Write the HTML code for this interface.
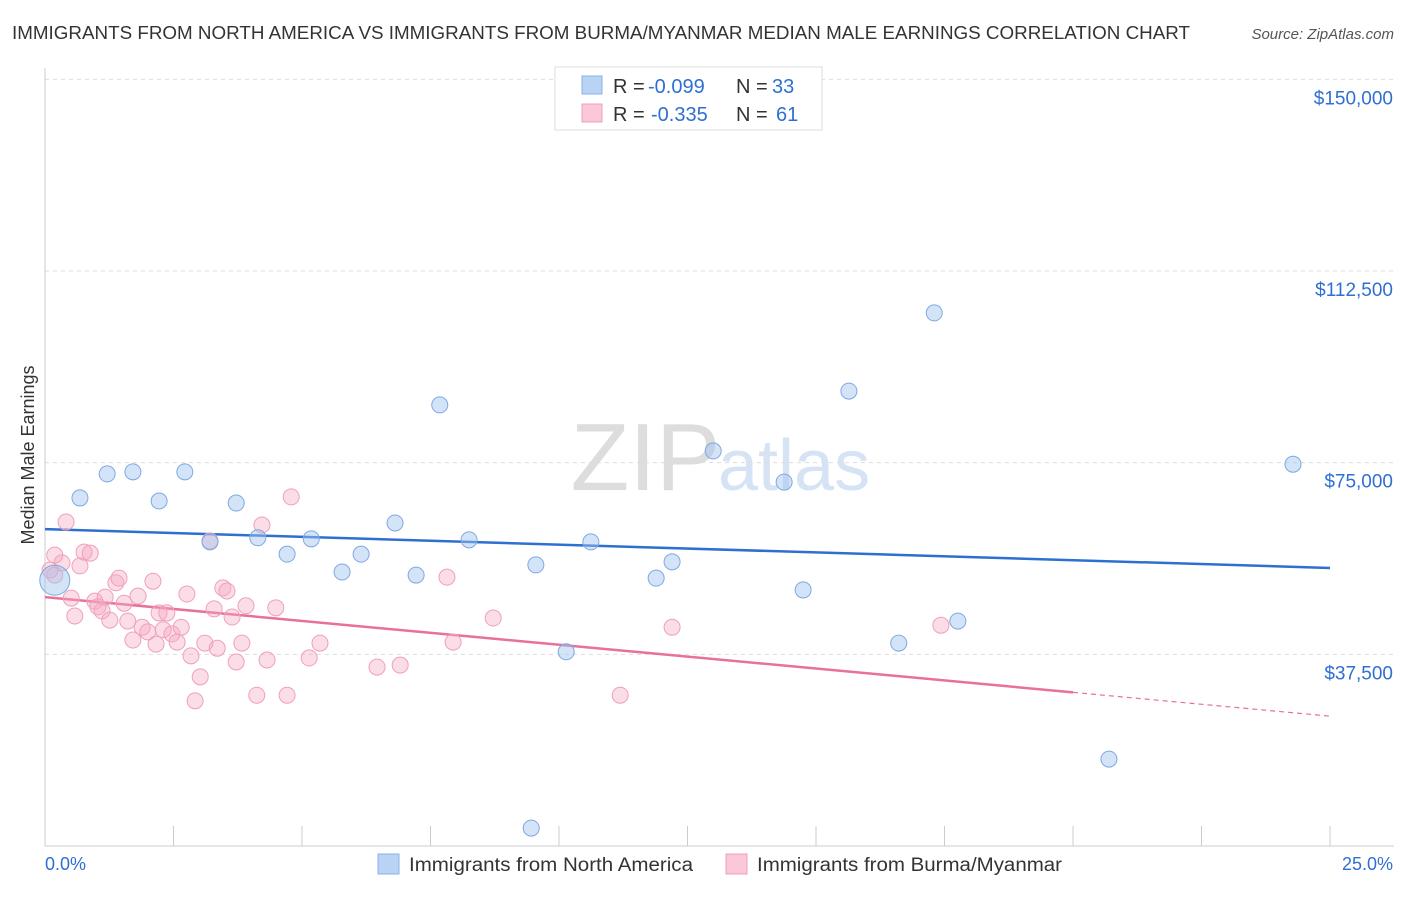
<!DOCTYPE html>
<html><head><meta charset="utf-8"><style>
body{margin:0;background:#fff;font-family:"Liberation Sans",sans-serif;}
svg text{font-family:"Liberation Sans",sans-serif;}
</style></head><body>
<svg id="chart" width="1406" height="892" xmlns="http://www.w3.org/2000/svg">
<text x="12" y="39" font-size="18" fill="#333" textLength="1178" lengthAdjust="spacingAndGlyphs">IMMIGRANTS FROM NORTH AMERICA VS IMMIGRANTS FROM BURMA/MYANMAR MEDIAN MALE EARNINGS CORRELATION CHART</text>
<text x="1394" y="39" font-size="15" fill="#555" text-anchor="end" font-style="italic">Source: ZipAtlas.com</text>
<text x="720" y="490" font-size="96" text-anchor="end" fill="#ddd" font-family="Liberation Serif">ZIP</text>
<text x="718" y="490" font-size="72" fill="#d5e3f5">atlas</text>
<text transform="translate(34,455) rotate(-90)" font-size="18" fill="#333" text-anchor="middle">Median Male Earnings</text>
<g id="grid"></g><g id="trend"></g><g id="points"></g>
<g>
<rect x="555" y="67" width="267" height="63" fill="#fff" stroke="#ddd"/>
<rect x="582" y="76" width="20" height="18" fill="#b9d3f5" stroke="#8ab2e8"/>
<rect x="582" y="104" width="20" height="18" fill="#fac8d6" stroke="#f0a0b8"/>
<text x="613" y="93" font-size="20" fill="#333">R =</text>
<text x="648" y="93" font-size="20" fill="#2f6fd1">-0.099</text>
<text x="736" y="93" font-size="20" fill="#333">N =</text>
<text x="772" y="93" font-size="20" fill="#2f6fd1">33</text>
<text x="613" y="121" font-size="20" fill="#333">R =</text>
<text x="651" y="121" font-size="20" fill="#2f6fd1">-0.335</text>
<text x="736" y="121" font-size="20" fill="#333">N =</text>
<text x="776" y="121" font-size="20" fill="#2f6fd1">61</text>
</g>
<g>
<rect x="378" y="854" width="21" height="20" fill="#b9d3f5" stroke="#8ab2e8"/>
<text x="409" y="871" font-size="19" fill="#333" textLength="284" lengthAdjust="spacingAndGlyphs">Immigrants from North America</text>
<rect x="726" y="854" width="21" height="20" fill="#fac8d6" stroke="#f0a0b8"/>
<text x="757" y="871" font-size="19" fill="#333" textLength="305" lengthAdjust="spacingAndGlyphs">Immigrants from Burma/Myanmar</text>
</g>
<text x="45" y="870" font-size="18" fill="#2f6fd1">0.0%</text>
<text x="1393" y="870" font-size="18" fill="#2f6fd1" text-anchor="end">25.0%</text>
</svg>
<script>
const yTicks=[37500,75000,112500,150000];
const yTickLabels=["$37,500","$75,000","$112,500","$150,000"];
const blueX=[0.19,0.68,1.21,1.71,2.22,2.72,3.21,3.72,4.14,4.71,5.18,5.78,6.15,6.81,7.22,7.68,8.25,9.46,9.55,10.14,10.62,11.89,12.2,13.0,14.38,14.75,15.64,16.61,17.3,17.76,20.7,24.28];
const blueY=[52.0,68.1,72.8,73.2,67.5,73.2,59.5,67.1,60.3,57.1,60.1,53.6,57.1,63.2,53.0,86.3,59.9,3.5,55.0,38.0,59.5,52.4,55.6,77.3,71.2,50.1,89.0,39.7,104.3,44.0,17.0,74.7];
const pinkX=[0.1,0.19,0.33,0.41,0.19,0.51,0.58,0.68,0.76,0.88,0.97,1.03,1.11,1.17,1.26,1.38,1.44,1.54,1.61,1.71,1.81,1.89,2.0,2.1,2.16,2.22,2.3,2.37,2.47,2.57,2.65,2.76,2.84,2.92,3.02,3.11,3.21,3.29,3.35,3.46,3.54,3.64,3.72,3.83,3.91,4.12,4.22,4.32,4.49,4.71,4.79,5.14,5.35,6.46,6.91,7.82,7.94,8.72,11.19,12.2,17.43];
const pinkY=[54.0,53.0,55.4,63.4,56.9,48.5,45.0,54.8,57.5,57.3,47.9,46.8,46.0,48.7,44.2,51.5,52.4,47.5,44.0,40.3,48.9,42.8,41.9,51.8,39.5,45.6,42.3,45.6,41.5,39.9,42.8,49.3,37.2,28.4,33.1,39.7,59.7,46.4,38.7,50.5,49.9,44.8,36.0,39.7,47.0,29.5,62.8,36.4,46.6,29.5,68.3,36.8,39.7,35.0,35.4,52.6,39.9,44.6,29.5,42.8,43.2];
const blueTrend=[62.0,54.4];
const pinkTrend=[48.7,25.4];
const pinkSolidEnd=20;
const NS="http://www.w3.org/2000/svg";
const xs=p=>45+p*51.4;
function yv(k){return 846-k/0.19565;}
function mk(t,a,parent){const e=document.createElementNS(NS,t);for(const k in a)e.setAttribute(k,a[k]);parent.appendChild(e);return e;}
const grid=document.getElementById('grid');
yTicks.forEach((v,i)=>{const y=yv(v/1000);
const l=mk('line',{x1:45,x2:1394,y1:y,y2:y,stroke:'#ddd','stroke-dasharray':'4,4'},grid);


const t=mk('text',{x:1393,y:y+25,'font-size':19,fill:'#2f6fd1','text-anchor':'end'},grid);t.textContent=yTickLabels[i];

});
const ax=mk('line',{x1:45,x2:45,y1:68,y2:846,stroke:'#ccc'},grid);


const bx=mk('line',{x1:45,x2:1394,y1:846,y2:846,stroke:'#ccc'},grid);


for(let i=0;i<=10;i++){const x=xs(i*2.5);const t=mk('line',{x1:x,x2:x,y1:826,y2:846,stroke:'#ccc'},grid);

}
const pts=document.getElementById('points');
pinkX.forEach((x,i)=>{const c=mk('circle',{cx:xs(x),cy:yv(pinkY[i]),r:8,fill:'rgba(246,170,196,0.4)',stroke:'#f0a0b8','stroke-width':1},pts);

});
blueX.forEach((x,i)=>{const c=mk('circle',{cx:xs(x),cy:yv(blueY[i]),r:i===0?15:8,fill:'rgba(160,195,240,0.45)',stroke:'#7ea8e0','stroke-width':1},pts);

});
const tr=document.getElementById('trend');
const b=mk('line',{x1:xs(0),y1:yv(blueTrend[0]),x2:xs(25),y2:yv(blueTrend[1]),stroke:'#2f6fd1','stroke-width':2.5},tr);


const pv=x=>pinkTrend[0]+(pinkTrend[1]-pinkTrend[0])*x/25;
const p=mk('line',{x1:xs(0),y1:yv(pv(0)),x2:xs(pinkSolidEnd),y2:yv(pv(pinkSolidEnd)),stroke:'#e8709a','stroke-width':2.5},tr);


const pd=mk('line',{x1:xs(pinkSolidEnd),y1:yv(pv(pinkSolidEnd)),x2:xs(25),y2:yv(pv(25)),stroke:'#e8709a','stroke-width':1.2,'stroke-dasharray':'5,4'},tr);


</script>
</body></html>
